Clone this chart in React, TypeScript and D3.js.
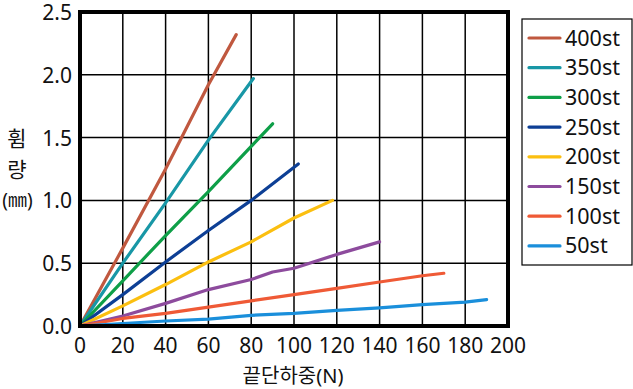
import React from 'react';
import * as d3 from 'd3';

// series labels, top to bottom in the legend
const seriesNames = ['400st', '350st', '300st', '250st', '200st', '150st', '100st', '50st'];
const seriesColors = ['#c0583f', '#1897a6', '#0e9f48', '#0d3f95', '#fbbf10', '#8d4b9d', '#ef5a36', '#1a8fdb'];

// [load N, deflection mm]
const s400: [number, number][] = [[0, 0], [20, 0.62], [40, 1.25], [60, 1.92], [73, 2.32]];
const s350: [number, number][] = [[0, 0], [20, 0.5], [40, 0.98], [60, 1.48], [81, 1.97]];
const s300: [number, number][] = [[0, 0], [20, 0.36], [40, 0.72], [60, 1.07], [80, 1.43], [90, 1.61]];
const s250: [number, number][] = [[0, 0], [20, 0.25], [40, 0.51], [60, 0.76], [80, 1.0], [102, 1.29]];
const s200: [number, number][] = [[0, 0], [20, 0.16], [40, 0.33], [60, 0.51], [80, 0.67], [100, 0.86], [118, 1.0]];
const s150: [number, number][] = [[0, 0], [20, 0.08], [40, 0.18], [60, 0.29], [80, 0.37], [90, 0.43], [100, 0.46], [120, 0.57], [140, 0.67]];
const s100: [number, number][] = [[0, 0], [20, 0.06], [40, 0.1], [60, 0.15], [80, 0.2], [100, 0.25], [120, 0.3], [140, 0.35], [160, 0.4], [170, 0.42]];
const s50: [number, number][] = [[0, 0], [20, 0.02], [40, 0.04], [60, 0.055], [80, 0.085], [100, 0.1], [120, 0.125], [140, 0.145], [160, 0.17], [180, 0.19], [190, 0.21]];

const seriesData = [s400, s350, s300, s250, s200, s150, s100, s50];

const xTicks = [0, 20, 40, 60, 80, 100, 120, 140, 160, 180, 200];
const yTicks = [0, 0.5, 1.0, 1.5, 2.0, 2.5];

const App: React.FC = () => {
  const width = 633;
  const height = 389;
  const plot = { left: 80, right: 508, top: 12, bottom: 326 };

  const x = d3.scaleLinear().domain([0, 200]).range([plot.left, plot.right]);
  const y = d3.scaleLinear().domain([0, 2.5]).range([plot.bottom, plot.top]);

  const line = d3.line<[number, number]>()
    .x(d => x(d[0]))
    .y(d => y(d[1]));

  const font = "'Noto Sans', 'Noto Sans CJK KR', sans-serif";

  // legend box
  const lg = { x: 522, y: 19, w: 110, h: 246, rowH: 29.7, firstY: 38 };

  return (
    <div style={{ position: 'absolute', left: 0, top: 0 }}>
      <svg width={width} height={height} style={{ display: 'block', background: '#fff' }}>
        {/* grid */}
        <g>
          {xTicks.slice(1, -1).map(t => (
            <line key={'gx' + t} x1={x(t)} x2={x(t)} y1={plot.top} y2={plot.bottom} stroke="#000" strokeWidth={1.5} />
          ))}
          {yTicks.slice(1, -1).map(t => (
            <line key={'gy' + t} x1={plot.left} x2={plot.right} y1={y(t)} y2={y(t)} stroke="#000" strokeWidth={1.5} />
          ))}
        </g>

        {/* series */}
        <g>
          {seriesData.map((d, i) => (
            <path key={seriesNames[i]} d={line(d) || ''} fill="none" stroke={seriesColors[i]}
              strokeWidth={3.2} strokeLinecap="round" strokeLinejoin="round" />
          ))}
        </g>

        {/* frame */}
        <rect x={plot.left} y={plot.top} width={plot.right - plot.left} height={plot.bottom - plot.top}
          fill="none" stroke="#000" strokeWidth={4} />

        {/* y ticks */}
        <g fontFamily={font} fontSize={21} fill="#111">
          {yTicks.map(t => (
            <text key={'ty' + t} x={72} y={y(t) + 8} textAnchor="end">{t.toFixed(1)}</text>
          ))}
        </g>

        {/* x ticks */}
        <g fontFamily={font} fontSize={21} fill="#111">
          {xTicks.map(t => (
            <text key={'tx' + t} x={x(t)} y={353} textAnchor="middle">{t}</text>
          ))}
        </g>

        {/* axis titles */}
        <text x={293} y={383} textAnchor="middle" fontFamily={font} fontSize={20} fill="#111">끝단하중(N)</text>
        <g fontFamily={font} fill="#111" textAnchor="middle">
          <text x={17} y={146} fontSize={21}>휨</text>
          <text x={17} y={177} fontSize={21}>량</text>
          <text x={17.5} y={207} fontSize={19}>(㎜)</text>
        </g>

        {/* legend */}
        <rect x={lg.x} y={lg.y} width={lg.w} height={lg.h} fill="#fff" stroke="#000" strokeWidth={1.2} />
        {seriesNames.map((name, i) => {
          const cy = lg.firstY + i * lg.rowH;
          return (
            <g key={'lg' + name}>
              <line x1={529} x2={560} y1={cy} y2={cy} stroke={seriesColors[i]} strokeWidth={3.2} strokeLinecap="round" />
              <text x={565} y={cy + 7.5} fontFamily={font} fontSize={21.5} fill="#111">{name}</text>
            </g>
          );
        })}
      </svg>
    </div>
  );
};

export default App;
